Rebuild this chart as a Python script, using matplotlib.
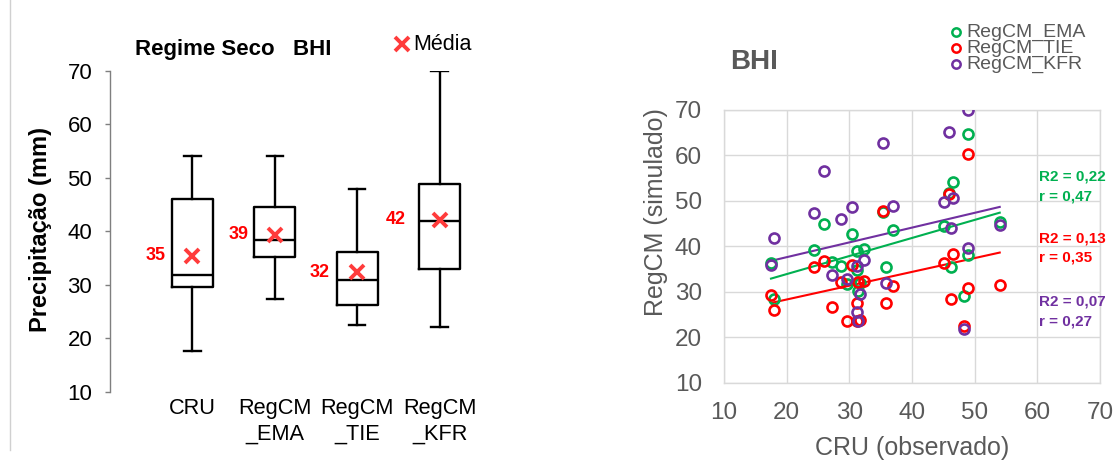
import numpy as np
import matplotlib
matplotlib.use("Agg")
import matplotlib.pyplot as plt
from matplotlib.lines import Line2D

# ---------------- data ----------------
box_names = ["CRU", "RegCM\n_EMA", "RegCM\n_TIE", "RegCM\n_KFR"]
box_whislo = [17.7, 27.3, 22.5, 22.1]
box_q1 = [29.7, 35.2, 26.2, 32.9]
box_med = [31.9, 38.3, 31.0, 42.0]
box_q3 = [46.0, 44.5, 36.2, 48.8]
box_whishi = [54.1, 54.1, 47.9, 70.0]
box_mean = [35.4, 39.4, 32.4, 42.2]

cru = [17.5, 18.0, 24.3, 25.9, 27.3, 28.6, 29.7, 30.5, 31.3, 31.2, 31.4, 31.7,
       32.3, 35.3, 35.8, 37.0, 45.1, 45.9, 46.2, 46.5, 48.3, 48.9, 48.9, 54.0]
ema = [36.4, 28.5, 39.3, 45.0, 36.6, 35.7, 31.8, 42.7, 39.0, 34.9, 30.2, 32.0,
       39.4, 47.6, 35.4, 43.7, 44.4, 51.8, 35.5, 54.1, 29.0, 64.7, 38.2, 45.3]
tie = [29.3, 26.1, 35.5, 36.7, 26.7, 32.2, 23.5, 36.0, 27.5, 23.6, 32.2, 23.9,
       32.4, 47.8, 27.6, 31.2, 36.4, 51.5, 28.4, 38.4, 22.5, 60.3, 30.9, 31.6]
kfr = [35.9, 41.9, 47.4, 56.6, 33.7, 46.0, 32.8, 48.6, 35.6, 25.6, 23.6, 29.5,
       37.0, 62.7, 32.0, 48.9, 49.7, 65.1, 44.1, 50.6, 21.9, 70.1, 39.7, 44.7]
series_names = ["RegCM_EMA", "RegCM_TIE", "RegCM_KFR"]
series_vals = [ema, tie, kfr]
series_colors = ["#00B050", "#FF0000", "#7030A0"]
stat_text = ["R2 = 0,22\nr = 0,47", "R2 = 0,13\nr = 0,35", "R2 = 0,07\nr = 0,27"]

ticks = [10, 20, 30, 40, 50, 60, 70]

# ---------------- style ----------------
W, H = 1118, 461
plt.rcParams['font.family'] = ['Liberation Sans', 'DejaVu Sans']
GRAY = "#595959"

fig = plt.figure(figsize=(W / 100, H / 100), dpi=100)

def fx(px):
    return px / W

def fy(py):
    return 1 - py / H

# ---------------- left: boxplot ----------------
LH = 392 - 70.7
axl = fig.add_axes([fx(110), fy(392), fx(412), LH / H])
pos = np.arange(1, len(box_names) + 1)
stats = []
for i in range(len(box_names)):
    stats.append(dict(whislo=box_whislo[i], q1=box_q1[i], med=box_med[i],
                      q3=box_q3[i], whishi=box_whishi[i], fliers=[]))
lw = 1.7
axl.bxp(stats, positions=pos, widths=0.5, capwidths=0.2, showfliers=False,
        boxprops=dict(color='black', lw=lw),
        whiskerprops=dict(color='black', lw=lw),
        capprops=dict(color='black', lw=lw),
        medianprops=dict(color='black', lw=lw))
axl.plot(pos, box_mean, ls='none', marker='x', ms=10, mew=2.8, color='#FF3B3B', zorder=5)
label_dx = [0.33, 0.32, 0.34, 0.41]
for p, m, dx in zip(pos, box_mean, label_dx):
    axl.text(p - dx, m, f"{int(m)}", ha='right', va='center', color='#FF0000',
             fontsize=13, fontweight='bold')
axl.set_xlim(0, 5)
axl.set_ylim(10, 70)
axl.set_yticks(ticks)
axl.tick_params(axis='y', labelsize=16, length=3.8, width=1, color='#7F7F7F', pad=9)
axl.set_xticks(pos)
axl.set_xticklabels(box_names, fontsize=15.7, linespacing=1.3)
axl.tick_params(axis='x', length=0, pad=4)
for s in ['top', 'right', 'bottom']:
    axl.spines[s].set_visible(False)
axl.spines['left'].set_color('#7F7F7F')
axl.spines['left'].set_linewidth(1)
axl.set_ylabel("Precipitação (mm)", fontsize=17, fontweight='bold')
axl.yaxis.set_label_coords(-(110 - 52) / 412, (392 - 230) / LH)
fig.text(fx(135), fy(50), "Regime Seco   BHI", fontsize=16, fontweight='bold', va='center', ha='left')
fig.add_artist(Line2D([fx(402)], [fy(44)], marker='x', ms=10, mew=2.8, color='#FF3B3B'))
fig.text(fx(413), fy(44), "Média", fontsize=15.5, va='center', ha='left')
fig.add_artist(Line2D([fx(10), fx(10)], [1, fy(450)], color='#D0D0D0', lw=1))

# ---------------- right: scatter ----------------
RH = 382.7 - 110
axr = fig.add_axes([fx(724), fy(382.7), fx(376), RH / H])
cru_a = np.array(cru)
for name, vals, col in zip(series_names, series_vals, series_colors):
    v = np.array(vals)
    axr.plot(cru_a, v, ls='none', marker='o', ms=7.2, mfc='none', mec=col, mew=1.9, zorder=4)
    k, b = np.polyfit(cru_a, v, 1)
    xs = np.array([cru_a.min(), cru_a.max()])
    axr.plot(xs, k * xs + b, color=col, lw=1.5, zorder=3)
axr.set_xlim(10, 70)
axr.set_ylim(10, 70)
axr.set_xticks(ticks)
axr.set_yticks(ticks)
axr.grid(True, color='#D9D9D9', lw=1)
axr.set_axisbelow(True)
for s in axr.spines.values():
    s.set_color('#D9D9D9')
    s.set_linewidth(1)
axr.tick_params(length=0, labelsize=17.5, labelcolor=GRAY)
axr.tick_params(axis='x', pad=14)
axr.tick_params(axis='y', pad=16)
axr.set_xlabel("CRU (observado)", fontsize=18, color=GRAY)
axr.xaxis.set_label_coords((912 - 724) / 376, -(436 - 382.7) / RH)
axr.set_ylabel("RegCM (simulado)", fontsize=18, color=GRAY)
axr.yaxis.set_label_coords(-(724 - 668) / 376, (382.7 - 212.5) / RH)

fig.text(fx(730), fy(62), "BHI", fontsize=20, fontweight='bold', color=GRAY, va='center', ha='left')
for i, (name, col) in enumerate(zip(series_names, series_colors)):
    y = 32.3 + 16 * i
    fig.add_artist(Line2D([fx(955.7)], [fy(y)], marker='o', ms=6, mfc='none', mec=col, mew=1.8))
    fig.text(fx(966.7), fy(y), name, fontsize=14, color=GRAY, va='center', ha='left')

stat_y = [186.5, 248, 311.5]
for txt, col, y in zip(stat_text, series_colors, stat_y):
    fig.text(fx(1039), fy(y), txt, fontsize=11, fontweight='bold', color=col,
             va='center', ha='left', linespacing=1.5)

fig.savefig("out.png", dpi=100)
